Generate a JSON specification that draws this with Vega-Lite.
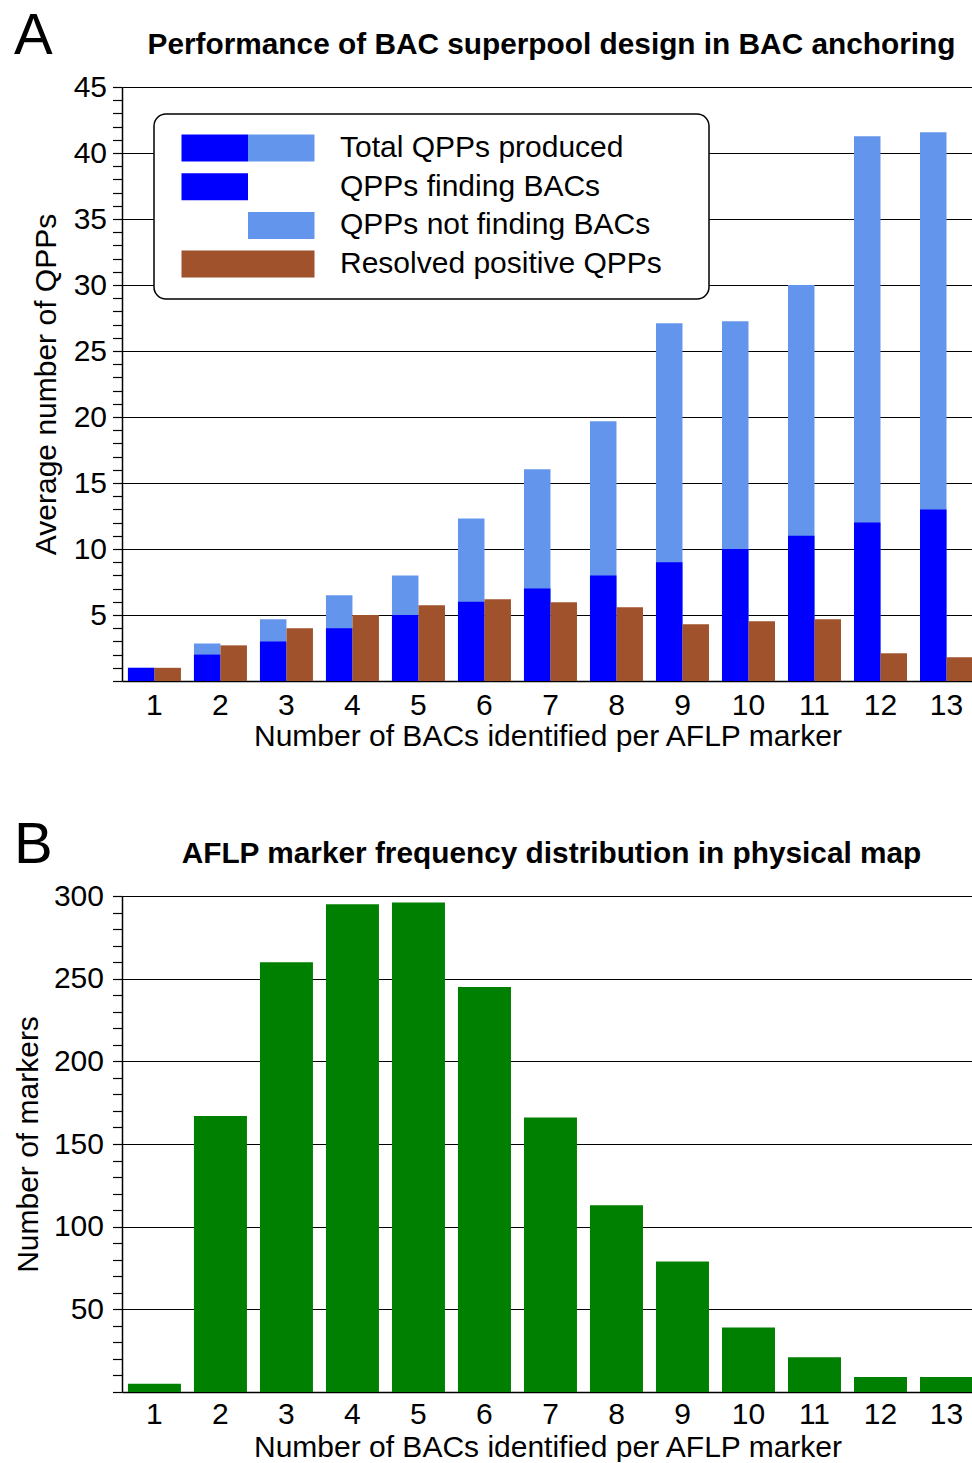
{
  "$schema": "https://vega.github.io/schema/vega-lite/v6.json",
  "autosize": {"type": "pad"},
  "padding": {"left": 13, "top": 8, "right": 0, "bottom": 0},
  "spacing": 66,
  "config": {
    "font": "Liberation Sans",
    "view": {"stroke": null},
    "axis": {
      "labelFontSize": 30, "titleFontSize": 30, "titleFontWeight": "normal",
      "labelColor": "black", "titleColor": "black", "domainColor": "black",
      "tickColor": "black", "gridColor": "black", "domainWidth": 1.5, "tickWidth": 1.2, "gridWidth": 1.2
    },
    "title": {"color": "black"},
    "legend": {"strokeWidth": 1.5}
  },
  "vconcat": [
    {
      "title": {"text": "A", "fontSize": 58, "fontWeight": "normal", "anchor": "start", "frame": "group", "dx": -108, "dy": 40},
      "vconcat": [
        {
          "width": 851, "height": 594,
          "title": {"text": "Performance of BAC superpool design in BAC anchoring", "fontSize": 29.8, "fontWeight": "bold", "anchor": "middle", "dx": 4, "offset": 12},
          "data": {"values": [
            {"n": 1, "finding": 1, "total": 1, "resolved": 1.0},
            {"n": 2, "finding": 2, "total": 2.85, "resolved": 2.7},
            {"n": 3, "finding": 3, "total": 4.67, "resolved": 4.0},
            {"n": 4, "finding": 4, "total": 6.5, "resolved": 5.0},
            {"n": 5, "finding": 5, "total": 8.0, "resolved": 5.73},
            {"n": 6, "finding": 6, "total": 12.32, "resolved": 6.19},
            {"n": 7, "finding": 7, "total": 16.04, "resolved": 5.96},
            {"n": 8, "finding": 8, "total": 19.67, "resolved": 5.58},
            {"n": 9, "finding": 9, "total": 27.1, "resolved": 4.3},
            {"n": 10, "finding": 10, "total": 27.25, "resolved": 4.52},
            {"n": 11, "finding": 11, "total": 30.0, "resolved": 4.67},
            {"n": 12, "finding": 12, "total": 41.26, "resolved": 2.1},
            {"n": 13, "finding": 13, "total": 41.57, "resolved": 1.8}
          ]},
          "transform": [{"fold": ["total", "finding", "resolved"], "as": ["key", "value"]}],
          "encoding": {
            "x": {
              "field": "n", "type": "ordinal",
              "scale": {"paddingInner": 0.197, "paddingOuter": 0.045, "align": 1},
              "axis": {"title": "Number of BACs identified per AFLP marker", "labelAngle": 0, "ticks": false, "labelPadding": 9, "titlePadding": 1}
            },
            "y": {
              "field": "value", "type": "quantitative",
              "scale": {"domain": [0, 45], "nice": false},
              "axis": {
                "title": "Average number of QPPs", "titlePadding": 12,
                "values": [0,1,2,3,4,5,6,7,8,9,10,11,12,13,14,15,16,17,18,19,20,21,22,23,24,25,26,27,28,29,30,31,32,33,34,35,36,37,38,39,40,41,42,43,44,45],
                "labelExpr": "datum.value % 5 === 0 && datum.value > 0 ? datum.label : ''",
                "labelOverlap": false, "tickSize": 9.5, "labelPadding": 6,
                "grid": true,
                "gridOpacity": {"condition": {"test": "datum.value % 5 === 0 && datum.value > 0", "value": 1}, "value": 0}
              }
            }
          },
          "layer": [
            {
              "transform": [{"filter": "datum.key === 'total'"}],
              "mark": {"type": "bar", "color": "#6495ED"},
              "encoding": {
                "xOffset": {"datum": "a", "type": "nominal", "scale": {"domain": ["a", "b"], "paddingInner": 0, "paddingOuter": 0}}
              }
            },
            {
              "transform": [{"filter": "datum.key === 'finding'"}],
              "mark": {"type": "bar", "color": "#0000FF"},
              "encoding": {
                "xOffset": {"datum": "a", "type": "nominal"}
              }
            },
            {
              "transform": [{"filter": "datum.key === 'resolved'"}],
              "mark": {"type": "bar", "color": "#A0522D"},
              "encoding": {
                "xOffset": {"datum": "b", "type": "nominal"}
              }
            },
            {
              "mark": {"type": "point", "opacity": 0, "filled": true},
              "encoding": {
                "color": {
                  "datum": "t1", "type": "nominal",
                  "scale": {"domain": ["t1", "t2", "t3", "t4"], "range": ["#6495ED", "transparent", "transparent", "transparent"]},
                  "legend": {
                    "title": null, "orient": "none", "legendX": 32, "legendY": 27, "padding": 19,
                    "cornerRadius": 12, "fillColor": "white", "strokeColor": "black", "zindex": 1,
                    "symbolType": "M-1,0L-1,0.001M4.4445,-1H9.3705V1H4.4445ZM37.15,0L37.15,0.001",
                    "symbolSize": 729, "symbolStrokeWidth": 0, "symbolOpacity": 1,
                    "labelFontSize": 30, "labelLimit": 1000, "labelOffset": 137, "rowPadding": 8.7,
                    "labelColor": "transparent", "labelExpr": "''"
                  }
                }
              }
            },
            {
              "mark": {"type": "point", "opacity": 0, "filled": true},
              "encoding": {
                "fill": {
                  "datum": "Total QPPs produced", "type": "nominal",
                  "scale": {"domain": ["Total QPPs produced", "QPPs finding BACs", "QPPs not finding BACs", "Resolved positive QPPs"], "range": ["#0000FF", "#0000FF", "#6495ED", "#A0522D"]},
                  "legend": {
                    "title": null, "orient": "none", "legendX": 32, "legendY": 27, "padding": 19, "zindex": 2,
                    "symbolSize": 729, "symbolStrokeWidth": 0, "symbolOpacity": 1,
                    "labelFontSize": 30, "labelLimit": 1000, "labelOffset": 137, "rowPadding": 8.7,
                    "labelColor": "black"
                  }
                },
                "shape": {
                  "datum": "Total QPPs produced", "type": "nominal",
                  "scale": {"domain": ["Total QPPs produced", "QPPs finding BACs", "QPPs not finding BACs", "Resolved positive QPPs"], "range": ["M-0.4815,-1H4.4445V1H-0.4815Z", "M-0.4815,-1H4.4445V1H-0.4815Z", "M4.4445,-1H9.3705V1H4.4445Z", "M-0.4815,-1H9.3705V1H-0.4815Z"]}
                }
              }
            }
          ]
        }
      ]
    },
    {
      "title": {"text": "B", "fontSize": 58, "fontWeight": "normal", "anchor": "start", "frame": "group", "dx": -108, "dy": 40},
      "vconcat": [
        {
          "width": 851, "height": 496,
          "title": {"text": "AFLP marker frequency distribution in physical map", "fontSize": 29.8, "fontWeight": "bold", "anchor": "middle", "dx": 4, "offset": 12},
          "data": {"values": [
            {"n": 1, "markers": 5},
            {"n": 2, "markers": 167},
            {"n": 3, "markers": 260},
            {"n": 4, "markers": 295},
            {"n": 5, "markers": 296},
            {"n": 6, "markers": 245},
            {"n": 7, "markers": 166},
            {"n": 8, "markers": 113},
            {"n": 9, "markers": 79},
            {"n": 10, "markers": 39},
            {"n": 11, "markers": 21},
            {"n": 12, "markers": 9},
            {"n": 13, "markers": 9}
          ]},
          "mark": {"type": "bar", "color": "#008000"},
          "encoding": {
            "x": {
              "field": "n", "type": "ordinal",
              "scale": {"paddingInner": 0.197, "paddingOuter": 0.045, "align": 1},
              "axis": {"title": "Number of BACs identified per AFLP marker", "labelAngle": 0, "ticks": false, "labelPadding": 7, "titlePadding": 3}
            },
            "y": {
              "field": "markers", "type": "quantitative",
              "scale": {"domain": [0, 300], "nice": false},
              "axis": {
                "title": "Number of markers", "titlePadding": 10,
                "values": [0,10,20,30,40,50,60,70,80,90,100,110,120,130,140,150,160,170,180,190,200,210,220,230,240,250,260,270,280,290,300],
                "labelExpr": "datum.value % 50 === 0 && datum.value > 0 ? datum.label : ''",
                "labelOverlap": false, "tickSize": 9.5, "labelPadding": 9,
                "grid": true,
                "gridOpacity": {"condition": {"test": "datum.value % 50 === 0 && datum.value > 0", "value": 1}, "value": 0}
              }
            }
          }
        }
      ]
    }
  ]
}
